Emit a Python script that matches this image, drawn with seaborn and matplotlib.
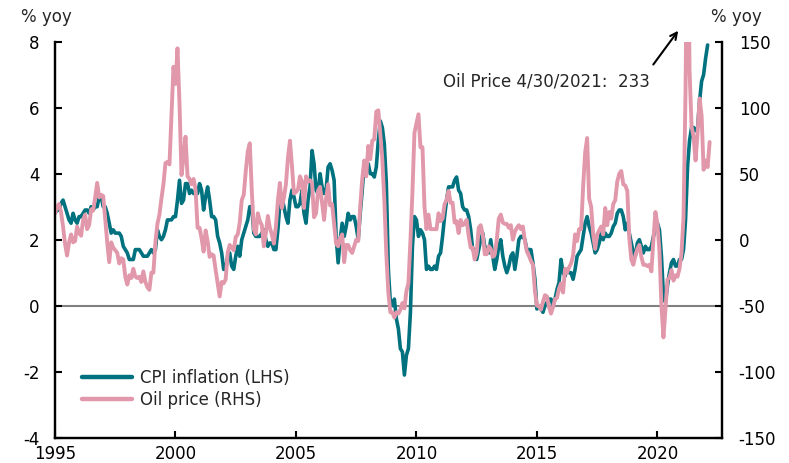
import numpy as np
import pandas as pd
import matplotlib
matplotlib.use('Agg')
import matplotlib.pyplot as plt
import seaborn as sns

# US CPI inflation, % yoy, monthly Jan 1995 - Feb 2022
cpi = [
    2.8, 2.9, 2.9, 3.1, 3.2, 3.0, 2.8, 2.6, 2.5, 2.8, 2.6, 2.5,
    2.7, 2.7, 2.8, 2.9, 2.9, 2.8, 3.0, 2.9, 3.0, 3.0, 3.3, 3.3,
    3.0, 3.0, 2.8, 2.5, 2.2, 2.3, 2.2, 2.2, 2.2, 2.1, 1.8, 1.7,
    1.6, 1.4, 1.4, 1.4, 1.7, 1.7, 1.7, 1.6, 1.5, 1.5, 1.5, 1.6,
    1.7, 1.6, 1.7, 2.3, 2.1, 2.0, 2.1, 2.3, 2.6, 2.6, 2.6, 2.7,
    2.7, 3.2, 3.8, 3.1, 3.2, 3.7, 3.7, 3.4, 3.5, 3.4, 3.4, 3.4,
    3.7, 3.5, 2.9, 3.3, 3.6, 3.2, 2.7, 2.7, 2.6, 2.1, 1.9, 1.6,
    1.1, 1.1, 1.5, 1.6, 1.2, 1.1, 1.5, 1.8, 1.5, 2.0, 2.2, 2.4,
    2.6, 3.0, 3.0, 2.2, 2.1, 2.1, 2.1, 2.2, 2.3, 2.0, 1.8, 1.9,
    1.9, 1.7, 1.7, 2.3, 3.1, 3.3, 3.0, 2.7, 2.5, 3.2, 3.5, 3.3,
    3.0, 3.0, 3.1, 3.5, 2.8, 2.5, 3.2, 3.6, 4.7, 4.3, 3.5, 3.4,
    4.0, 3.6, 3.4, 3.5, 4.2, 4.3, 4.1, 3.8, 2.1, 1.3, 2.0, 2.5,
    2.1, 2.4, 2.8, 2.6, 2.7, 2.7, 2.4, 2.0, 2.8, 3.5, 4.3, 4.1,
    4.3, 4.0, 4.0, 3.9, 4.2, 5.0, 5.6, 5.4, 4.9, 3.7, 1.1, 0.1,
    0.0, 0.2, -0.4, -0.7, -1.3, -1.4, -2.1, -1.5, -1.3, -0.2, 1.8, 2.7,
    2.6, 2.1, 2.3, 2.2, 2.0, 1.1, 1.2, 1.1, 1.1, 1.2, 1.1, 1.5,
    1.6, 2.1, 2.7, 3.2, 3.6, 3.6, 3.6, 3.8, 3.9, 3.5, 3.4, 3.0,
    2.9, 2.9, 2.7, 2.3, 1.7, 1.7, 1.4, 1.7, 2.0, 2.2, 1.8, 1.7,
    1.6, 2.0, 1.5, 1.1, 1.4, 1.8, 2.0, 1.5, 1.2, 1.0, 1.2, 1.5,
    1.6, 1.1, 1.5, 2.0, 2.1, 2.1, 2.0, 1.7, 1.7, 1.7, 1.3, 0.8,
    -0.1, 0.0, -0.1, -0.2, 0.0, 0.1, 0.2, 0.2, 0.0, 0.2, 0.5, 0.7,
    1.4, 1.0, 0.9, 1.1, 1.0, 1.0, 0.8, 1.1, 1.5, 1.6, 1.7, 2.1,
    2.5, 2.7, 2.4, 2.2, 1.9, 1.6, 1.7, 1.9, 2.2, 2.0, 2.2, 2.1,
    2.1, 2.2, 2.4, 2.5, 2.8, 2.9, 2.9, 2.7, 2.3, 2.5, 2.2, 1.9,
    1.6, 1.5, 1.9, 2.0, 1.8, 1.6, 1.8, 1.7, 1.7, 1.8, 2.1, 2.3,
    2.5, 2.3, 1.5, 0.3, 0.1, 0.6, 1.0, 1.3, 1.4, 1.2, 1.2, 1.4,
    1.4, 1.7, 2.6, 4.2, 5.0, 5.4, 5.4, 5.3, 5.4, 6.2, 6.8, 7.0,
    7.5, 7.9,
]

# oil price, % yoy, monthly Jan 1995 - Mar 2022
oil = [
    20, 25, 27, 21, 10, -3, -12, -2, 4, -2, -1, 10,
    5, 3, 15, 19, 8, 11, 23, 22, 32, 43, 32, 34,
    33, 16, -2, -17, -2, -6, -8, -10, -18, -14, -15, -28,
    -34, -27, -29, -22, -28, -29, -28, -32, -24, -32, -36, -38,
    -25, -25, -2, 12, 19, 31, 42, 58, 59, 57, 94, 131,
    118, 145, 103, 49, 62, 78, 48, 46, 42, 46, 38, 9,
    9, 1, -9, 7, -1, -13, -11, -12, -23, -33, -43, -32,
    -33, -30, -10, -4, -6, -8, 2, 4, 13, 30, 34, 52,
    67, 73, 37, 8, 4, 20, 14, 11, -5, 5, 18, 9,
    4, -3, 10, 30, 43, 24, 32, 42, 62, 75, 56, 35,
    36, 38, 48, 44, 24, 48, 44, 45, 43, 17, 20, 37,
    40, 28, 15, 31, 42, 26, 27, 12, -3, -5, 1, 4,
    -17, -4, -4, -8, -10, -5, 0, -1, 25, 46, 60, 48,
    71, 61, 75, 76, 97, 98, 80, 61, 30, -11, -40, -55,
    -55, -59, -55, -56, -53, -48, -52, -39, -33, -1, 36, 81,
    88, 95, 70, 70, 25, 8, 19, 8, 8, 8, 8, 20,
    14, 16, 27, 30, 37, 28, 28, 13, 14, 5, 15, 11,
    12, 15, 3, -6, -6, -15, -10, 9, 11, 4, -11, -11,
    -5, -7, -13, -11, 0, 16, 19, 13, 12, 12, 9, 11,
    0, 6, 9, 11, 8, 10, -1, -9, -12, -16, -19, -39,
    -50, -50, -53, -47, -42, -43, -51, -56, -51, -45, -44, -37,
    -33, -40, -22, -25, -21, -18, -12, 4, -1, 8, 8, 40,
    66, 77, 31, 25, 4, -7, 4, 7, 10, 4, 24, 11,
    21, 16, 27, 30, 44, 50, 52, 42, 41, 37, 1, -15,
    -19, -12, -7, -4, -13, -19, -19, -20, -19, -24, 0, 21,
    12, -8, -50, -74, -53, -30, -29, -23, -31, -27, -28, -22,
    -10, 17, 113, 272, 128, 86, 78, 60, 81, 107, 94, 53,
    60, 55, 74,
]

x_ticks = [1995, 2000, 2005, 2010, 2015, 2020]
left_ticks = [-4, -2, 0, 2, 4, 6, 8]
right_ticks = [-150, -100, -50, 0, 50, 100, 150]

teal = '#00717E'
pink = '#E298AB'

sns.set_theme(style='white')
plt.rcParams['font.family'] = ['DejaVu Sans']
plt.rcParams['axes.unicode_minus'] = False

# decimal year for each month
t = 1995 + np.arange(len(oil)) / 12
df_cpi = pd.DataFrame({'t': t[:len(cpi)], 'v': cpi})
df_oil = pd.DataFrame({'t': t, 'v': oil})

W, H = 789, 463
fig = plt.figure(figsize=(W / 100, H / 100), dpi=100)
ax = fig.add_axes([55 / W, 1 - 437.7 / H, (722 - 55) / W, (437.7 - 41.7) / H])
ax2 = ax.twinx()

ax.axhline(0, color='#808080', lw=1.5, zorder=0)
sns.lineplot(data=df_cpi, x='t', y='v', ax=ax, color=teal, lw=2.6, legend=False)
sns.lineplot(data=df_oil, x='t', y='v', ax=ax2, color=pink, lw=2.8, legend=False)

ax.set_xlim(1995, 2022.68)
ax.set_ylim(-4, 8)
ax2.set_ylim(-150, 150)
ax.set_xticks(x_ticks)
ax.set_yticks(left_ticks)
ax2.set_yticks(right_ticks)
ax.set_xlabel('')
ax.set_ylabel('')
ax2.set_ylabel('')

for a in (ax, ax2):
    a.spines['top'].set_visible(False)
    for s in ('left', 'right', 'bottom'):
        a.spines[s].set_color('black')
        a.spines[s].set_linewidth(1.6)
    a.grid(False)

fs = 12
ax.tick_params(axis='x', bottom=True, direction='in', length=5, width=1.5,
               colors='black', labelsize=fs, pad=5)
ax.tick_params(axis='y', left=True, direction='in', length=5, width=1.5,
               colors='black', labelsize=fs, pad=11)
ax2.tick_params(axis='y', right=True, direction='in', length=5, width=1.5,
                colors='black', labelsize=fs, pad=12)

# legend with handles from both axes
handles = [plt.Line2D([], [], color=teal, lw=3.2), plt.Line2D([], [], color=pink, lw=3.2)]
leg = ax2.legend(handles, ['CPI inflation (LHS)', 'Oil price (RHS)'],
                 loc='upper left', bbox_to_anchor=(82 / W, 1 - 369 / H),
                 bbox_transform=fig.transFigure, frameon=False, fontsize=fs,
                 handlelength=3.0, handletextpad=0.5, labelspacing=0.25,
                 borderpad=0, borderaxespad=0)

fig.text(21 / W, 1 - 17 / H, '% yoy', ha='left', va='center', fontsize=fs)
fig.text(711 / W, 1 - 17 / H, '% yoy', ha='left', va='center', fontsize=fs)

ax2.text(2011.1, 119.5, 'Oil Price 4/30/2021:  233', ha='left', va='center', fontsize=fs)
ax2.annotate('', xy=(2020.93, 160), xytext=(2019.76, 131),
             arrowprops=dict(arrowstyle='->', lw=1.5, color='black'),
             annotation_clip=False)

fig.savefig('out.png', dpi=100)
